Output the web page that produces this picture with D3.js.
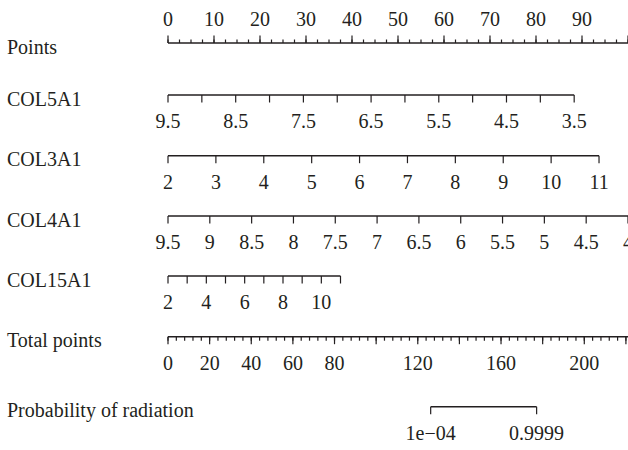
<!DOCTYPE html>
<html>
<head>
<meta charset="utf-8">
<script src="https://cdn.jsdelivr.net/npm/d3@7"></script>
<style>
  body { margin: 0; background: #fff; }
  #chart text { font-family: 'Liberation Serif', 'Times New Roman', Tinos, 'DejaVu Serif', 'Noto Serif', serif; font-size: 20px; fill: #231f20; }
</style>
</head>
<body>
<svg id="chart" width="628" height="450"></svg>
<script>
// nomogram data
var pointsLabels = [0, 10, 20, 30, 40, 50, 60, 70, 80, 90];
var pointsMinor = d3.range(0, 101, 2.5);

// each predictor: value at 0 points, value at its max points
var col5a1Values = [9.5, 9, 8.5, 8, 7.5, 7, 6.5, 6, 5.5, 5, 4.5, 4, 3.5];
var col5a1Labels = [9.5, 8.5, 7.5, 6.5, 5.5, 4.5, 3.5];
var col5a1Points = [0, 88.3];

var col3a1Values = [2, 3, 4, 5, 6, 7, 8, 9, 10, 11];
var col3a1Labels = [2, 3, 4, 5, 6, 7, 8, 9, 10, 11];
var col3a1Points = [0, 93.7];

var col4a1Values = [9.5, 9, 8.5, 8, 7.5, 7, 6.5, 6, 5.5, 5, 4.5, 4];
var col4a1Labels = [9.5, 9, 8.5, 8, 7.5, 7, 6.5, 6, 5.5, 5, 4.5, 4];
var col4a1Points = [0, 100];

var col15a1Values = [2, 3, 4, 5, 6, 7, 8, 9, 10, 11];
var col15a1Labels = [2, 4, 6, 8, 10];
var col15a1Points = [0, 37.5];

var totalLabels = [0, 20, 40, 60, 80, 120, 160, 200];
var totalMajor = d3.range(0, 221, 20);
var totalMinor = d3.range(0, 221, 4);
var totalMax = 221;

var probLabels = ["1e\u221204", "0.9999"];
var probTotals = [126.2, 177.1];

var svg = d3.select("#chart");
var ink = "#231f20";
var serif = "'Liberation Serif', 'Times New Roman', Tinos, 'DejaVu Serif', 'Noto Serif', serif";

var x = d3.scaleLinear().domain([0, 100]).range([168, 628]);
var xTotal = d3.scaleLinear().domain([0, totalMax]).range([168, 628]);

function rowLabel(text, y) {
    svg.append("text").attr("x", 7).attr("y", y + 10.5)
        .attr("font-family", serif).attr("font-size", 20)
        .text(text);
}

function line(x1, x2, y) {
    svg.append("line")
        .attr("x1", x1).attr("x2", x2)
        .attr("y1", y).attr("y2", y)
        .attr("stroke", ink).attr("stroke-width", 1.4);
}

function ticks(xs, y, len) {
    svg.selectAll(null).data(xs).enter().append("line")
        .attr("x1", function(d) { return d; })
        .attr("x2", function(d) { return d; })
        .attr("y1", y).attr("y2", y + len)
        .attr("stroke", ink).attr("stroke-width", 1.2);
}

function labels(items, y) {
    svg.selectAll(null).data(items).enter().append("text")
        .attr("x", function(d) { return d.x; })
        .attr("y", y)
        .attr("text-anchor", "middle")
        .attr("font-family", serif).attr("font-size", 20)
        .text(function(d) { return d.t; });
}

// Points
var yPts = 43;
rowLabel("Points", yPts);
line(x(0), x(100), yPts);
ticks(pointsMinor.map(x), yPts, -3.5);
ticks(d3.range(0, 101, 10).map(x), yPts, -7.5);
labels(pointsLabels.map(function(v) { return { x: x(v), t: v }; }), yPts - 17);

// predictor rows
function predictor(name, y, values, labs, pts) {
    var v2p = d3.scaleLinear().domain([values[0], values[values.length - 1]]).range(pts);
    rowLabel(name, y);
    line(x(v2p(values[0])), x(v2p(values[values.length - 1])), y);
    ticks(values.map(function(v) { return x(v2p(v)); }), y, 7.5);
    labels(labs.map(function(v) { return { x: x(v2p(v)), t: v }; }), y + 33);
}

predictor("COL5A1", 95, col5a1Values, col5a1Labels, col5a1Points);
predictor("COL3A1", 155.7, col3a1Values, col3a1Labels, col3a1Points);
predictor("COL4A1", 216, col4a1Values, col4a1Labels, col4a1Points);
predictor("COL15A1", 276, col15a1Values, col15a1Labels, col15a1Points);

// Total points
var yTot = 336.7;
rowLabel("Total points", yTot);
line(xTotal(0), 628, yTot);
ticks(totalMinor.map(xTotal), yTot, 4);
ticks(totalMajor.map(xTotal), yTot, 7.5);
labels(totalLabels.map(function(v) { return { x: xTotal(v), t: v }; }), yTot + 33);

// Probability
var yProb = 406.7;
rowLabel("Probability of radiation", yProb);
line(xTotal(probTotals[0]), xTotal(probTotals[1]), yProb);
ticks(probTotals.map(xTotal), yProb, 7.5);
labels(probTotals.map(function(v, i) { return { x: xTotal(v), t: probLabels[i] }; }), yProb + 33);
</script>
</body>
</html>
